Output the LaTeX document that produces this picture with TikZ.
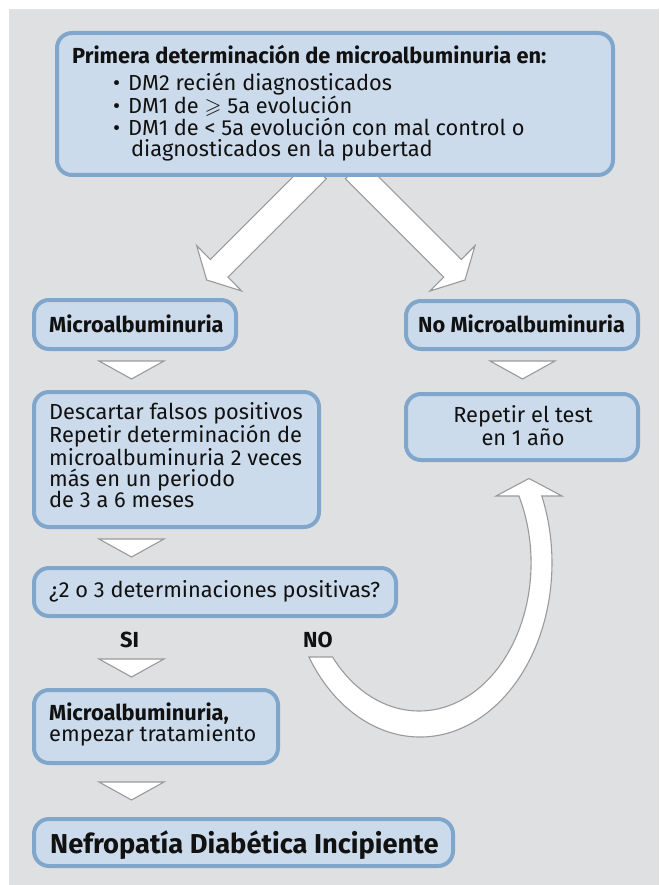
\documentclass[tikz,border=0pt]{standalone}
\usepackage{fontspec}
\usepackage{amssymb}
\setmainfont{Fira Sans}
\definecolor{bg}{HTML}{DFE0E2}
\definecolor{boxfill}{HTML}{CCDBEB}
\definecolor{boxline}{HTML}{80A6CC}
\definecolor{arrline}{HTML}{9A9A9A}
\definecolor{ink}{HTML}{111111}
\tikzset{
 box/.style={draw=boxline, line width=4pt, fill=boxfill, rounded corners=15pt, inner sep=0pt},
 fat/.style={draw=arrline, line width=1.1pt, fill=white, line join=miter},
 txt/.style={anchor=base west, inner sep=0pt, text=ink, align=left, font=\fontsize{21.8}{21.3}\selectfont},
 btxt/.style={txt, font=\fontsize{21.8}{21.3}\selectfont\bfseries},
 ctxt/.style={txt, anchor=base, align=center},
}
\newcommand{\bul}{\makebox[15pt][l]{•}}
\begin{document}
\begin{tikzpicture}[x=1pt,y=-1pt]
\useasboundingbox (0,0) rectangle (659,885);
\fill[bg] (9,9) rectangle (659,885);

% diagonal fat arrows
\draw[fat] (308.7,161.2) -- (210.4,259.5) -- (196.7,245.7) -- (206.7,280) -- (241.7,291) -- (228.0,277.1) -- (326.3,178.8) -- cycle;
\draw[fat] (363.0,161.2) -- (461.3,259.5) -- (475,245.7) -- (465,280) -- (430,291) -- (443.7,277.1) -- (345.4,178.8) -- cycle;

% boxes
\node[box, minimum width=556, minimum height=142] (top) at (335,104) {};
\node[box, minimum width=202, minimum height=49] (micro) at (135,324.5) {};
\node[box, minimum width=232, minimum height=48] (nomicro) at (522,325) {};
\node[box, minimum width=285, minimum height=135] (desc) at (176.5,459.5) {};
\node[box, minimum width=232, minimum height=66] (rep) at (522,427) {};
\node[box, minimum width=362, minimum height=48] (preg) at (215,592) {};
\node[box, minimum width=244, minimum height=73] (trat) at (156,726.5) {};
\node[box, minimum width=419, minimum height=47] (nefro) at (243.5,842.5) {};

% small triangles
\draw[fat] (99,361) -- (164,361) -- (131.5,379) -- cycle;
\draw[fat] (490,361) -- (555,361) -- (522.5,379) -- cycle;
\draw[fat] (99,539) -- (164,539) -- (131.5,557) -- cycle;
\draw[fat] (99,659) -- (164,659) -- (131.5,677) -- cycle;
\draw[fat] (99,782) -- (164,782) -- (131.5,800) -- cycle;

% U-shaped return arrow
\draw[fat] (308.9,657) arc[start angle=147.3, end angle=-22.65, x radius=132, y radius=174]
  -- (562,496) -- (529,478.5) -- (496,496) -- (518.9,496)
  arc[start angle=-26.92, end angle=140.6, x radius=112, y radius=148] -- cycle;

% texts (multi-line nodes are anchored at the baseline of their last line)
\node[txt] (toptext) at (72,156.4) {\textbf{Primera determinación de microalbuminuria en:}\\[6.2pt]
  \hspace*{41pt}\bul DM2 recién diagnosticados\\
  \hspace*{41pt}\bul DM1 de $\geqslant$ 5a evolución\\
  \hspace*{41pt}\bul DM1 de < 5a evolución con mal control o\\
  \hspace*{59pt}diagnosticados en la pubertad};

\node[btxt] (tm) at (49,332) {Microalbuminuria};
\node[btxt] (tn) at (418,332) {No Microalbuminuria};

\node[txt] (desct) at (49,507.6) {Descartar falsos positivos\\
  Repetir determinación de\\
  microalbuminuria 2 veces\\
  más en un periodo\\
  de 3 a 6 meses};

\node[ctxt] (rept) at (523,445.3) {Repetir el test\\en 1 año};

\node[txt] (q1) at (49,597) {¿2 o 3 determinaciones positivas?};
\node[btxt] (si) at (120,647) {SI};
\node[btxt] (no) at (303,647) {NO};

\node[txt] (tratt) at (49,741.3) {\textbf{Microalbuminuria,}\\empezar tratamiento};

\node[btxt, font=\fontsize{27.3}{28}\selectfont\bfseries] (nf) at (50,853) {Nefropatía Diabética Incipiente};
\end{tikzpicture}
\end{document}
